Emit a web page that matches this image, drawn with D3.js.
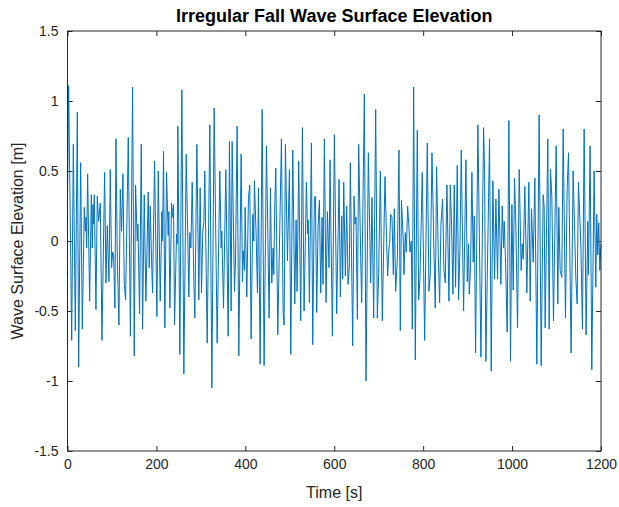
<!DOCTYPE html>
<html>
<head>
<meta charset="utf-8">
<script src="https://cdn.jsdelivr.net/npm/d3@7"></script>
<style>
  body { margin: 0; background: #fff; }
  svg { display: block; font-family: "Liberation Sans", Arial, sans-serif; }
  .axis text { fill: #262626; font-size: 14px; }
  .axis line { stroke: #262626; }
</style>
</head>
<body>
<script>
// time [s] of each sample
var time = [0, 2.6, 9.4, 13.1, 17.6, 22.1, 25.1, 29.6, 33.3, 37.8, 40.1, 41.6, 43.1, 45.3, 49.8, 53.6, 55.8, 57.3, 58.8, 60.3,
  64.0, 67.0, 70.0, 73.8, 77.5, 83.5, 86.5, 89.5, 93.3, 96.2, 99.2, 101.5, 103.7, 106.7, 109.0, 112.0, 115.7, 118.7, 121.7, 124.7,
  127.7, 130.7, 136.7, 141.5, 146.4, 150.1, 153.1, 156.9, 158.4, 162.1, 165.9, 168.9, 172.6, 176.3, 181.6, 183.8, 186.1, 189.1, 191.3, 195.8,
  201.1, 204.1, 208.6, 212.3, 213.8, 216.0, 219.0, 222.8, 226.5, 228.0, 230.3, 234.0, 236.3, 238.5, 240.8, 245.3, 246.8, 248.3, 252.7, 257.2,
  261.7, 267.0, 273.0, 275.2, 277.5, 280.5, 284.2, 286.4, 291.0, 295.4, 298.4, 301.4, 304.4, 306.7, 308.9, 314.2, 320.2, 324.7, 329.9, 336.6,
  342.6, 345.6, 347.1, 350.9, 356.1, 361.4, 364.3, 368.1, 370.3, 375.6, 377.8, 381.6, 385.3, 390.6, 393.6, 395.1, 398.1, 399.6, 403.3, 407.0,
  410.0, 413.0, 416.8, 419.0, 420.5, 424.3, 427.3, 429.5, 433.3, 437.8, 442.2, 447.5, 453.5, 456.5, 459.5, 462.5, 464.0, 466.2, 468.5, 473.0,
  481.2, 485.0, 487.2, 490.2, 494.7, 499.2, 502.2, 506.7, 511.2, 514.2, 516.4, 520.1, 524.6, 528.4, 532.1, 537.4, 540.0, 541.5, 544.1, 548.6,
  551.6, 555.3, 557.6, 560.6, 563.6, 566.6, 569.6, 572.6, 574.8, 577.8, 581.6, 584.6, 588.3, 590.5, 595.8, 600.3, 605.5, 610.8, 613.8, 616.8,
  619.0, 621.3, 625.0, 628.0, 631.0, 634.0, 636.2, 641.5, 644.5, 646.7, 649.0, 652.0, 655.0, 659.5, 661.7, 667.7, 671.4, 676.7, 681.9, 684.9,
  688.7, 693.2, 696.9, 699.9, 703.7, 708.1, 714.1, 717.9, 720.1, 723.1, 724.6, 726.9, 729.9, 732.9, 735.1, 738.1, 741.9, 745.6, 748.6, 751.2,
  755.3, 756.8, 759.8, 762.1, 765.1, 768.1, 770.3, 773.3, 775.6, 778.6, 782.3, 786.8, 789.8, 792.8, 798.0, 803.3, 809.3, 813.0, 816.0, 819.8,
  824.2, 827.2, 830.2, 834.0, 837.0, 840.0, 843.7, 846.7, 849.7, 853.5, 858.0, 861.0, 863.9, 866.9, 869.9, 872.9, 876.7, 879.7, 882.7, 885.7,
  890.9, 896.2, 899.2, 902.1, 903.6, 906.6, 909.6, 912.6, 914.9, 917.9, 923.1, 929.9, 935.9, 938.1, 941.1, 947.1, 949.3, 953.1, 956.8, 960.6,
  963.6, 967.3, 970.3, 974.8, 977.8, 980.8, 982.3, 985.3, 989.0, 992.8, 996.5, 999.5, 1002.5, 1005.5, 1008.5, 1012.3, 1016.0, 1020.5, 1022.7, 1025.0,
  1028.7, 1033.2, 1037.7, 1040.7, 1043.7, 1047.5, 1051.2, 1055.7, 1060.9, 1065.4, 1069.9, 1072.2, 1074.4, 1080.4, 1083.4, 1086.4, 1089.4, 1093.1, 1099.1, 1102.9,
  1105.1, 1108.1, 1111.9, 1114.9, 1120.1, 1123.9, 1126.9, 1132.8, 1137.3, 1143.3, 1146.3, 1149.3, 1154.6, 1158.3, 1162.1, 1166.5, 1170.3, 1171.8, 1175.5, 1179.3,
  1184.5, 1188.3, 1190.5, 1192.8, 1195.0, 1197.3, 1200];

// wave surface elevation [m] at those times
var elevation = [0.30, 1.11, -0.71, 0.69, -0.64, 0.92, -0.90, 0.56, -0.63, 0.24, 0.07, 0.17, -0.05, 0.48, -0.43, 0.33, -0.05, 0.26, 0.12, 0.33,
  -0.49, 0.32, 0.14, 0.27, -0.71, 0.49, -0.30, 0.11, -0.29, 0.51, -0.19, -0.08, -0.10, -0.48, 0.73, -0.12, -0.60, 0.37, 0.07, 0.48,
  -0.31, -0.42, 0.74, -0.68, 1.10, -0.82, 0.40, 0.00, 0.12, -0.52, 0.69, -0.63, 0.33, -0.43, 0.35, -0.19, 0.25, -0.14, -0.37, 0.57,
  -0.54, 0.50, -0.43, 0.21, 0.00, 0.64, -0.62, 0.49, 0.04, 0.21, -0.48, 0.27, 0.17, 0.26, -0.60, 0.05, -0.02, 0.82, -0.81, 1.08,
  -0.95, 0.62, -0.40, 0.06, -0.05, 0.42, -0.29, -0.55, 0.69, -0.42, 0.38, -0.37, 0.07, 0.14, 0.50, -0.73, 0.83, -1.05, 0.95, -0.73,
  0.50, -0.05, 0.07, -0.48, 0.51, -0.68, 0.71, -0.50, 0.71, -0.36, -0.15, 0.82, -0.82, 0.62, -0.29, -0.07, -0.21, 0.24, -0.40, 0.31,
  0.40, -0.70, 0.19, 0.00, 0.43, 0.04, -0.37, 0.38, -0.88, 0.94, -0.89, 0.68, -0.55, 0.38, -0.30, -0.05, -0.24, 0.25, 0.52, -0.67,
  0.73, -0.51, -0.60, 0.69, -0.14, 0.51, -0.81, 0.65, -0.45, 0.15, -0.36, 0.57, -0.57, 0.81, -0.50, 0.42, 0.05, 0.15, -0.44, 0.70,
  -0.74, 0.31, 0.32, -0.51, 0.11, 0.29, -0.37, 0.17, -0.31, 0.73, -0.44, 0.21, -0.19, 0.58, -0.68, 0.76, -0.52, 0.44, -0.40, 0.18,
  -0.27, 0.42, -0.25, 0.25, -0.31, -0.18, 0.56, -0.75, 0.32, 0.12, 0.17, -0.56, 0.69, -0.12, -0.44, 1.05, -1.00, 0.63, -0.30, 0.31,
  -0.55, 0.94, -0.55, -0.24, 0.50, -0.57, 0.46, -0.02, -0.25, -0.05, -0.02, 0.19, 0.17, -0.24, 0.23, -0.36, -0.13, 0.65, -0.64, 0.29,
  0.00, -0.24, 0.06, -0.08, 0.25, 0.10, -0.08, 0.00, -0.63, 1.10, -0.85, 0.79, -0.42, -0.27, 0.49, -0.71, 0.70, -0.36, -0.24, 0.63,
  -0.07, -0.48, 0.53, -0.10, -0.44, 0.12, 0.30, -0.21, -0.30, 0.40, -0.43, 0.40, 0.12, -0.38, 0.40, -0.33, 0.54, -0.42, -0.06, 0.65,
  -0.50, 0.58, -0.29, -0.02, -0.38, -0.19, 0.49, -0.15, 0.18, -0.80, 0.83, -0.83, 0.81, 0.51, -0.86, 0.31, 0.73, -0.93, 0.43, -0.27,
  0.30, -0.27, 0.37, -0.31, 0.25, -0.05, 0.14, -0.15, -0.65, 0.86, -0.86, 0.26, -0.35, 0.45, 0.11, -0.62, 0.51, -0.21, -0.02, -0.13,
  0.39, -0.37, 0.42, -0.43, 0.23, -0.15, 0.45, -0.88, 0.90, -0.89, 0.33, 0.24, -0.62, 0.73, -0.63, 0.51, 0.32, -0.57, 0.68, -0.45,
  0.24, -0.21, -0.26, 0.80, -0.55, 0.38, 0.63, -0.80, 0.50, -0.26, -0.45, 0.42, -0.02, -0.63, 0.80, -0.67, 0.14, -0.24, 0.68, -0.92,
  0.50, -0.33, 0.19, -0.10, 0.13, -0.21, -0.02];

var xTicks = [0, 200, 400, 600, 800, 1000, 1200];
var yTicks = [-1.5, -1, -0.5, 0, 0.5, 1, 1.5];

var W = 619, H = 507,
    margin = {top: 31, right: 18, bottom: 56, left: 67.5},
    w = W - margin.left - margin.right,
    h = H - margin.top - margin.bottom;

var svg = d3.select("body").append("svg").attr("width", W).attr("height", H);
var g = svg.append("g").attr("transform", "translate(" + margin.left + "," + margin.top + ")");

var x = d3.scaleLinear().domain([0, 1200]).range([0, w]);
var y = d3.scaleLinear().domain([-1.5, 1.5]).range([h, 0]);

var fmt = function (d) { return String(d); };

// inward ticks on all four sides, like a boxed matlab axes
g.append("g").attr("class", "axis").attr("transform", "translate(0," + h + ")")
  .call(d3.axisBottom(x).tickValues(xTicks).tickFormat(fmt).tickSizeInner(-5).tickSizeOuter(0).tickPadding(8));
g.append("g").attr("class", "axis")
  .call(d3.axisTop(x).tickValues(xTicks).tickFormat("").tickSizeInner(-5).tickSizeOuter(0));
g.append("g").attr("class", "axis")
  .call(d3.axisLeft(y).tickValues(yTicks).tickFormat(fmt).tickSizeInner(-5).tickSizeOuter(0).tickPadding(9));
g.append("g").attr("class", "axis").attr("transform", "translate(" + w + ",0)")
  .call(d3.axisRight(y).tickValues(yTicks).tickFormat("").tickSizeInner(-5).tickSizeOuter(0));
g.selectAll(".axis .domain").remove();

var line = d3.line()
  .x(function (d, i) { return x(time[i]); })
  .y(function (d) { return y(d); });

g.append("path")
  .datum(elevation)
  .attr("d", line)
  .attr("fill", "none")
  .attr("stroke", "#0072BD")
  .attr("stroke-width", 1)
  .attr("stroke-linejoin", "round");

g.append("rect")
  .attr("width", w).attr("height", h)
  .attr("fill", "none").attr("stroke", "#262626").attr("stroke-width", 1);

svg.append("text")
  .attr("x", margin.left + w / 2).attr("y", 22)
  .attr("text-anchor", "middle")
  .attr("font-size", 18).attr("font-weight", "bold").attr("fill", "#000")
  .text("Irregular Fall Wave Surface Elevation");

svg.append("text")
  .attr("x", margin.left + w / 2).attr("y", 498)
  .attr("text-anchor", "middle")
  .attr("font-size", 16).attr("fill", "#262626")
  .text("Time [s]");

svg.append("text")
  .attr("transform", "translate(23," + (margin.top + h / 2) + ") rotate(-90)")
  .attr("text-anchor", "middle")
  .attr("font-size", 16).attr("fill", "#262626")
  .text("Wave Surface Elevation [m]");
</script>
</body>
</html>
